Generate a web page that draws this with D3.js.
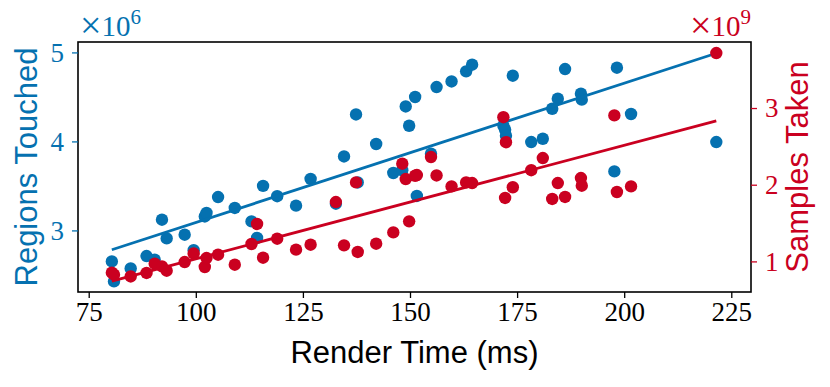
<!DOCTYPE html>
<html><head><meta charset="utf-8">
<script src="https://cdn.jsdelivr.net/npm/d3@7"></script>
<style>body{margin:0;background:#fff}</style>
</head><body>
<svg id="c" width="830" height="387"></svg>
<script>
// Render time (ms)
const renderTime = [80.4,80.9,84.8,88.5,90.4,92.1,93.2,97.4,99.5,102.1,102.5,105.2,109.1,113.0,114.3,115.7,119.0,123.4,126.8,132.7,134.6,137.4,137.8,142.1,146.1,148.2,149.0,149.8,151.2,151.6,154.9,156.2,159.7,163.1,164.5,171.8,172.2,172.4,174.0,178.3,181.0,183.2,184.5,186.2,189.9,190.1,197.7,198.3,201.6,221.5];
// Regions touched (x 10^6)
const regionsTouched = [2.652,2.427,2.572,2.712,2.671,3.120,2.910,2.952,2.778,3.157,3.196,3.375,3.252,3.101,2.915,3.500,3.384,3.278,3.579,3.300,3.831,4.303,3.539,3.971,3.645,3.676,4.393,4.176,4.499,3.387,3.862,4.611,4.674,4.787,4.862,4.176,4.131,4.064,4.738,3.993,4.030,4.367,4.480,4.813,4.536,4.469,3.663,4.828,4.308,3.993];
// Samples taken (x 10^9)
const samplesTaken = [0.853,0.827,0.804,0.849,0.970,0.935,0.879,0.992,1.103,0.927,1.044,1.087,0.957,1.227,1.488,1.048,1.296,1.153,1.218,1.774,1.209,2.030,1.123,1.231,1.378,2.274,2.074,1.522,2.117,2.126,2.361,2.121,1.978,2.030,2.022,2.880,1.827,2.554,1.967,2.189,2.348,1.814,2.022,1.840,2.087,1.987,2.904,1.905,1.978,3.717];
const xTicks = [75,100,125,150,175,200,225];
const leftTicks = [3,4,5];
const rightTicks = [1,2,3];
const leftExp = "6", rightExp = "9";
const xLabel = "Render Time (ms)", leftLabel = "Regions Touched", rightLabel = "Samples Taken";

const blue = "#0571b0", red = "#ca0020";
const M = {l:78, r:751, t:42, b:292};
const svg = d3.select("#c");
const x = d3.scaleLinear().domain([72.5,229.6]).range([M.l,M.r]);
const yL = d3.scaleLinear().domain([2.308,5.117]).range([M.b,M.t]);
const yR = d3.scaleLinear().domain([0.601,3.861]).range([M.b,M.t]);
const serif = "'Liberation Serif', 'DejaVu Serif', serif";
const sans = "'Liberation Sans', Arial, sans-serif";

function fit(xs, ys){
  const n=xs.length, mx=d3.mean(xs), my=d3.mean(ys);
  let sxy=0,sxx=0; for(let i=0;i<n;i++){sxy+=(xs[i]-mx)*(ys[i]-my);sxx+=(xs[i]-mx)**2;}
  const b=sxy/sxx, a=my-b*mx; const x0=d3.min(xs), x1=d3.max(xs);
  return [[x0,a+b*x0],[x1,a+b*x1]];
}
const pts = renderTime.map((t,i)=>({t, r:regionsTouched[i], s:samplesTaken[i]}));

// blue series
svg.append("g").selectAll("circle").data(pts).join("circle")
  .attr("cx",d=>x(d.t)).attr("cy",d=>yL(d.r)).attr("r",6.2).attr("fill",blue);
svg.append("path").datum(fit(renderTime,regionsTouched))
  .attr("d",d3.line().x(d=>x(d[0])).y(d=>yL(d[1])))
  .attr("stroke",blue).attr("stroke-width",2.8).attr("fill","none");
// red series
svg.append("g").selectAll("circle").data(pts).join("circle")
  .attr("cx",d=>x(d.t)).attr("cy",d=>yR(d.s)).attr("r",6.2).attr("fill",red);
svg.append("path").datum(fit(renderTime,samplesTaken))
  .attr("d",d3.line().x(d=>x(d[0])).y(d=>yR(d[1])))
  .attr("stroke",red).attr("stroke-width",2.8).attr("fill","none");

// frame
svg.append("rect").attr("x",M.l).attr("y",M.t).attr("width",M.r-M.l).attr("height",M.b-M.t)
  .attr("fill","none").attr("stroke","#000").attr("stroke-width",1.6);

function styleAxis(g,color){
  g.select(".domain").remove();
  g.selectAll(".tick line").attr("stroke",color).attr("stroke-width",1.3);
  g.selectAll(".tick text").attr("fill",color).attr("font-family",serif).attr("font-size",27);
}
const gx = svg.append("g").attr("transform",`translate(0,${M.b})`)
  .call(d3.axisBottom(x).tickValues(xTicks).tickSize(6).tickPadding(4).tickFormat(d3.format("d")));
styleAxis(gx,"#000");
const gl = svg.append("g").attr("transform",`translate(${M.l},0)`)
  .call(d3.axisLeft(yL).tickValues(leftTicks).tickSize(6).tickPadding(8).tickFormat(d3.format("d")));
styleAxis(gl,blue);
const gr = svg.append("g").attr("transform",`translate(${M.r},0)`)
  .call(d3.axisRight(yR).tickValues(rightTicks).tickSize(6).tickPadding(8).tickFormat(d3.format("d")));
styleAxis(gr,red);

// exponent labels
function expLabel(xp, anchor, exp, color){
  const t = svg.append("text").attr("x",xp).attr("y",36).attr("text-anchor",anchor)
    .attr("fill",color).attr("font-family",serif).attr("font-size",29);
  t.append("tspan").attr("font-size",38).attr("dy",2).text("\u00d7");
  t.append("tspan").attr("dy",-2).text("10");
  t.append("tspan").attr("dy",-12).attr("font-size",21).text(exp);
}
expLabel(M.l+2,"start",leftExp,blue);
expLabel(M.r,"end",rightExp,red);

// axis titles
svg.append("text").attr("x",(M.l+M.r)/2).attr("y",363).attr("text-anchor","middle")
  .attr("font-family",sans).attr("font-size",31).attr("fill","#000").text(xLabel);
svg.append("text").attr("transform",`translate(37,${(M.t+M.b)/2}) rotate(-90)`).attr("text-anchor","middle")
  .attr("font-family",sans).attr("font-size",31).attr("fill",blue).text(leftLabel);
svg.append("text").attr("transform",`translate(808,${(M.t+M.b)/2}) rotate(-90)`).attr("text-anchor","middle")
  .attr("font-family",sans).attr("font-size",31).attr("fill",red).text(rightLabel);
</script>
</body></html>
